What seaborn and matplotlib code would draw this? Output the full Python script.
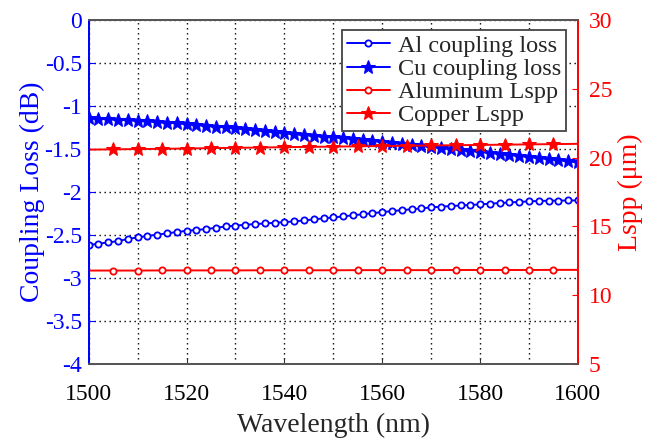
import numpy as np
import pandas as pd
import matplotlib
matplotlib.use('Agg')
import matplotlib.pyplot as plt
import seaborn as sns

# Data
wl_fine = list(range(1500, 1601, 2))
al_loss = [-2.616, -2.600, -2.585, -2.570, -2.545, -2.527, -2.510, -2.495, -2.480, -2.465,
           -2.450, -2.440, -2.430, -2.415, -2.400, -2.390, -2.380, -2.372, -2.365, -2.357,
           -2.350, -2.340, -2.330, -2.318, -2.305, -2.295, -2.283, -2.270, -2.258, -2.245,
           -2.233, -2.222, -2.210, -2.200, -2.190, -2.178, -2.170, -2.163, -2.156, -2.150,
           -2.143, -2.135, -2.128, -2.121, -2.115, -2.108, -2.104, -2.101, -2.099, -2.098,
           -2.097]
cu_loss = [-1.143, -1.148, -1.154, -1.159, -1.165, -1.171, -1.178, -1.186, -1.193, -1.201,
           -1.209, -1.219, -1.229, -1.239, -1.250, -1.260, -1.272, -1.283, -1.295, -1.306,
           -1.318, -1.327, -1.336, -1.346, -1.355, -1.364, -1.374, -1.384, -1.395, -1.405,
           -1.415, -1.427, -1.438, -1.450, -1.461, -1.473, -1.485, -1.496, -1.508, -1.519,
           -1.531, -1.543, -1.555, -1.566, -1.578, -1.590, -1.603, -1.616, -1.629, -1.642,
           -1.655]

wl_coarse = list(range(1500, 1601, 5))
al_lspp = [11.80, 11.80, 11.80, 11.81, 11.81, 11.81, 11.81, 11.82, 11.82, 11.82, 11.82,
           11.83, 11.83, 11.83, 11.83, 11.84, 11.84, 11.84, 11.84, 11.85, 11.85]
cu_lspp = [20.58, 20.60, 20.62, 20.64, 20.66, 20.69, 20.71, 20.73, 20.76, 20.78, 20.80,
           20.82, 20.84, 20.86, 20.88, 20.90, 20.92, 20.94, 20.96, 20.98, 21.00]

sns.set_style('ticks')
plt.rcParams['font.family'] = ['Liberation Serif', 'DejaVu Serif']

fig = plt.figure(figsize=(6.62, 4.42), dpi=100)
ax1 = fig.add_axes([0.134, 0.176, 0.739, 0.779])
ax2 = ax1.twinx()

sns.lineplot(x=wl_fine, y=al_loss, ax=ax1, color='blue', marker='o', markersize=4.5,
             markerfacecolor='white', markeredgecolor='blue', markeredgewidth=1.3,
             linewidth=1.4, label='Al coupling loss', legend=False)
sns.lineplot(x=wl_fine, y=cu_loss, ax=ax1, color='blue', marker='*', markersize=10,
             markeredgecolor='blue', linewidth=1.4, label='Cu coupling loss', legend=False)
sns.lineplot(x=wl_coarse, y=al_lspp, ax=ax2, color='red', marker='o', markersize=4.5,
             markerfacecolor='white', markeredgecolor='red', markeredgewidth=1.3,
             linewidth=1.4, markevery=slice(1, 20), label='Aluminum Lspp', legend=False)
sns.lineplot(x=wl_coarse, y=cu_lspp, ax=ax2, color='red', marker='*', markersize=10,
             markeredgecolor='red', linewidth=1.4, markevery=slice(1, 20),
             label='Copper Lspp', legend=False)

# Left axis
ax1.set_xlim(1500, 1600)
ax1.set_ylim(-4, 0)
ax1.set_xticks(range(1500, 1601, 20))
ax1.set_xticks(range(1500, 1601, 10), minor=True)
ax1.set_yticks(np.arange(-4, 0.01, 0.5))
ax1.set_yticklabels(['-4', '-3.5', '-3', '-2.5', '-2', '-1.5', '-1', '-0.5', '0'])
ax1.grid(which='both', axis='x', color='black', linestyle=(0, (1, 2.6)), linewidth=1.0)
ax1.grid(which='major', axis='y', color='black', linestyle=(0, (1, 2.6)), linewidth=1.0)
ax1.tick_params(axis='x', which='both', direction='in', labelsize=17, colors='#333333',
                labelcolor='black', length=4, pad=14)
ax1.tick_params(axis='x', which='minor', length=0)
ax1.tick_params(axis='y', direction='in', labelsize=17, colors='blue', length=4, pad=5)
ax1.set_xlabel('Wavelength (nm)', fontsize=20, labelpad=6)
ax1.set_ylabel('Coupling Loss (dB)', fontsize=20, color='blue', labelpad=0)

# Right axis
ax2.set_ylim(5, 30)
ax2.set_yticks(range(5, 31, 5))
ax2.tick_params(axis='y', direction='in', labelsize=17, colors='red', length=4, pad=8)
ax2.set_ylabel('Lspp (μm)', fontsize=20, color='red', labelpad=4)

for ax in (ax1, ax2):
    ax.spines['left'].set_color('blue')
    ax.spines['right'].set_color('red')
    ax.spines['top'].set_color('#555555')
    ax.spines['bottom'].set_color('#555555')
    for s in ax.spines.values():
        s.set_linewidth(1.3)

h1, l1 = ax1.get_legend_handles_labels()
h2, l2 = ax2.get_legend_handles_labels()
leg = ax2.legend(h1 + h2, l1 + l2, loc='upper right', bbox_to_anchor=(0.985, 0.985),
                 fontsize=17.5, frameon=True, fancybox=False, framealpha=1,
                 edgecolor='#444444', handlelength=1.8, handletextpad=0.3,
                 labelspacing=0.05, borderpad=0.2, borderaxespad=0.2)
leg.get_frame().set_linewidth(1.3)

fig.savefig('out.png', dpi=100)
